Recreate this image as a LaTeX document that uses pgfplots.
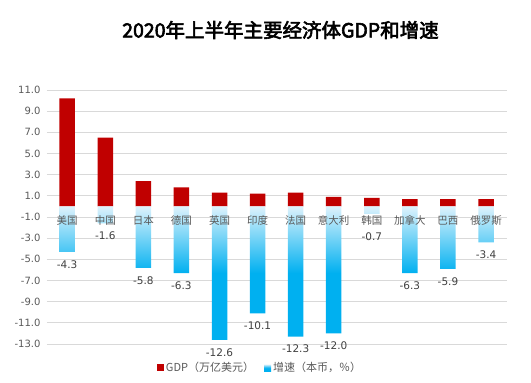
\documentclass[border=0pt]{standalone}
\usepackage{fontspec}
\setmainfont{DejaVu Sans}
\newfontfamily\cjk{Noto Sans CJK SC}
\newfontfamily\cjktitle[FakeBold=3]{Noto Sans CJK SC}
\usepackage{pgfplots}
\usepackage{pgfplotstable}
\pgfplotsset{compat=1.18}
\definecolor{gdpred}{HTML}{C00000}
\definecolor{gblue}{HTML}{00B0F0}
\definecolor{glight}{HTML}{DDF2FC}
\definecolor{gridc}{HTML}{D9D9D9}
\definecolor{tickc}{HTML}{595959}
\definecolor{valc}{HTML}{404040}

\pgfplotstableread{
x gdp g
0 10.2 -4.3
1 6.5 -1.6
2 2.4 -5.8
3 1.8 -6.3
4 1.3 -12.6
5 1.2 -10.1
6 1.3 -12.3
7 0.9 -12.0
8 0.8 -0.7
9 0.7 -6.3
10 0.7 -5.9
11 0.7 -3.4
}\data

\pgfplotsset{sqlegend/.style={legend image code/.code={\path[##1] (0pt,-3.5pt) rectangle (7pt,3.5pt);}}}

\begin{document}
\begin{tikzpicture}
\useasboundingbox (0,0) rectangle (531pt,383pt);
\begin{axis}[
  at={(47pt,39pt)}, anchor=south west,
  scale only axis, width=460pt, height=254pt,
  xmin=-0.53, xmax=11.55, ymin=-13, ymax=11,
  ytick={-13,-11,...,11}, xtick=\empty,
  axis line style={draw=none},
  major tick length=0pt,
  ymajorgrids, grid style={gridc, line width=0.8pt},
  yticklabel={\pgfmathprintnumber[fixed,fixed zerofill,precision=1,assume math mode=true]{\tick}},
  yticklabel style={font=\fontsize{10}{12}\selectfont, text=tickc, xshift=-3pt},
  legend style={at={(axis description cs:0.463,-0.094)}, anchor=center, draw=none, fill=none,
    legend columns=2, font=\cjk\fontsize{11}{12}\selectfont, text=tickc,
    /tikz/every even column/.append style={column sep=8pt}},
  clip=false,
]
\addplot[ybar, bar width=15.5pt, bar shift=0pt, fill=gdpred, draw=none, sqlegend] table[x=x,y=gdp]{\data};
\addlegendentry{GDP（万亿美元）}
\addplot[ybar, bar width=15.5pt, bar shift=0pt, draw=none,
  top color=glight, bottom color=gblue, middle color=gblue,
  visualization depends on={\thisrow{g} \as \gv},
  nodes near coords={\pgfmathprintnumber[fixed,fixed zerofill,precision=1,assume math mode=true]{\pgfplotspointmeta}},
  nodes near coords align=vertical,
  every node near coord/.append style={font=\fontsize{10.5}{12}\selectfont, text=valc, yshift={-5-(\gv>-1)*10}},
  sqlegend] table[x=x,y=g]{\data};
\addlegendentry{增速（本币，％）}
\node[font=\cjk\fontsize{10.5}{12}\selectfont, text=tickc, yshift=-14pt] at (axis cs:0,0) {美国};
\node[font=\cjk\fontsize{10.5}{12}\selectfont, text=tickc, yshift=-14pt] at (axis cs:1,0) {中国};
\node[font=\cjk\fontsize{10.5}{12}\selectfont, text=tickc, yshift=-14pt] at (axis cs:2,0) {日本};
\node[font=\cjk\fontsize{10.5}{12}\selectfont, text=tickc, yshift=-14pt] at (axis cs:3,0) {德国};
\node[font=\cjk\fontsize{10.5}{12}\selectfont, text=tickc, yshift=-14pt] at (axis cs:4,0) {英国};
\node[font=\cjk\fontsize{10.5}{12}\selectfont, text=tickc, yshift=-14pt] at (axis cs:5,0) {印度};
\node[font=\cjk\fontsize{10.5}{12}\selectfont, text=tickc, yshift=-14pt] at (axis cs:6,0) {法国};
\node[font=\cjk\fontsize{10.5}{12}\selectfont, text=tickc, yshift=-14pt] at (axis cs:7,0) {意大利};
\node[font=\cjk\fontsize{10.5}{12}\selectfont, text=tickc, yshift=-14pt] at (axis cs:8,0) {韩国};
\node[font=\cjk\fontsize{10.5}{12}\selectfont, text=tickc, yshift=-14pt] at (axis cs:9,0) {加拿大};
\node[font=\cjk\fontsize{10.5}{12}\selectfont, text=tickc, yshift=-14pt] at (axis cs:10,0) {巴西};
\node[font=\cjk\fontsize{10.5}{12}\selectfont, text=tickc, yshift=-14pt] at (axis cs:11,0) {俄罗斯};
\end{axis}
\node[font=\cjktitle\fontsize{19.5}{22}\selectfont] at (280.5pt,353pt) {2020年上半年主要经济体GDP和增速};
\end{tikzpicture}
\end{document}
